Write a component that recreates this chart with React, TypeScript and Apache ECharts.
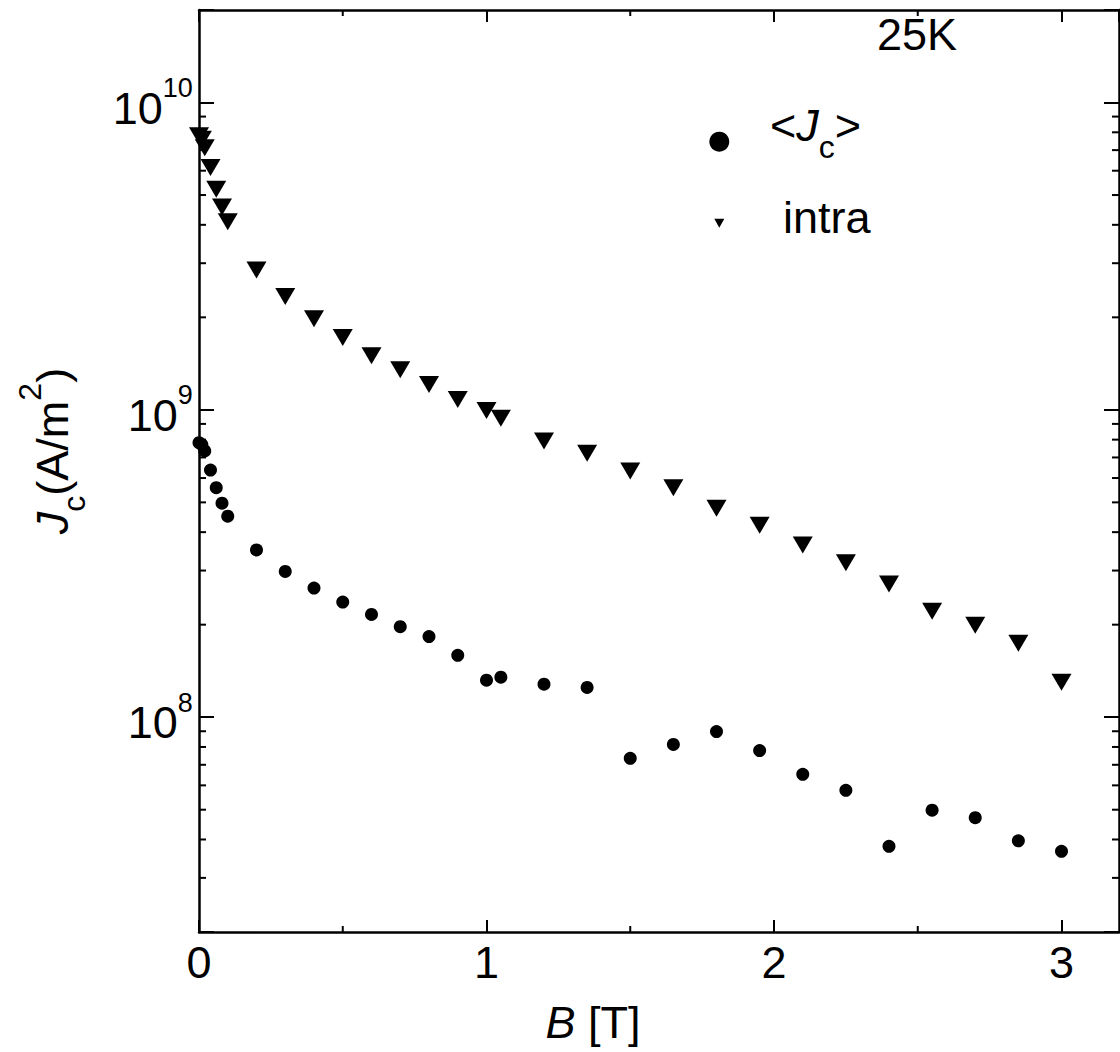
import React, { useEffect, useRef } from 'react';
import * as echarts from 'echarts';

// Magnetic field B [T]
const bField = [0, 0.01, 0.02, 0.04, 0.06, 0.08, 0.1, 0.2, 0.3, 0.4, 0.5, 0.6, 0.7, 0.8, 0.9, 1.0, 1.05, 1.2, 1.35, 1.5, 1.65, 1.8, 1.95, 2.1, 2.25, 2.4, 2.55, 2.7, 2.85, 3.0];
// <Jc> (A/m^2)
const jcAvg = [7.82e8, 7.7e8, 7.35e8, 6.37e8, 5.58e8, 4.97e8, 4.51e8, 3.5e8, 2.98e8, 2.63e8, 2.37e8, 2.16e8, 1.97e8, 1.83e8, 1.59e8, 1.32e8, 1.35e8, 1.28e8, 1.25e8, 7.35e7, 8.15e7, 8.98e7, 7.79e7, 6.52e7, 5.78e7, 3.8e7, 4.98e7, 4.71e7, 3.96e7, 3.66e7];
// intra (A/m^2)
const jcIntra = [7.8e9, 7.6e9, 7.13e9, 6.14e9, 5.22e9, 4.57e9, 4.09e9, 2.85e9, 2.34e9, 1.98e9, 1.72e9, 1.5e9, 1.35e9, 1.21e9, 1.08e9, 9.95e8, 9.39e8, 7.92e8, 7.23e8, 6.33e8, 5.58e8, 4.78e8, 4.21e8, 3.63e8, 3.18e8, 2.71e8, 2.21e8, 1.99e8, 1.74e8, 1.3e8];

const xMinorTicks = [0.5, 1.5, 2.5];
const yMinorTicks = [3e7, 4e7, 5e7, 6e7, 7e7, 8e7, 9e7, 2e8, 3e8, 4e8, 5e8, 6e8, 7e8, 8e8, 9e8, 2e9, 3e9, 4e9, 5e9, 6e9, 7e9, 8e9, 9e9];

const FONT = '"Liberation Sans", Arial, Helvetica, sans-serif';
const BLACK = '#000';

export default function App() {
  const ref = useRef<HTMLDivElement>(null);

  useEffect(() => {
    if (!ref.current) return;
    const chart = echarts.init(ref.current, undefined, { renderer: 'svg' });

    const lineStyle = { color: BLACK, width: 2.5 };
    const tickStyle = { color: BLACK, width: 2 };

    const nameRich = {
      i: { fontSize: 45, fontStyle: 'italic', lineHeight: 76, verticalAlign: 'middle', fontFamily: FONT, color: BLACK },
      n: { fontSize: 45, lineHeight: 76, verticalAlign: 'middle', fontFamily: FONT, color: BLACK },
      sub: { fontSize: 32, lineHeight: 46, verticalAlign: 'bottom', fontFamily: FONT, color: BLACK },
      sup: { fontSize: 32, lineHeight: 32, verticalAlign: 'top', fontFamily: FONT, color: BLACK },
    };

    const option: any = {
      animation: false,
      backgroundColor: '#fff',
      grid: { left: 199, right: 1, top: 10, bottom: 120, containLabel: false },
      xAxis: [
        {
          type: 'value', min: 0, max: 3.2, interval: 1, position: 'bottom',
          axisLine: { show: true, onZero: false, lineStyle },
          axisTick: { show: true, inside: true, length: 12, lineStyle: tickStyle },
          axisLabel: {
            show: true, margin: 8, fontSize: 45, fontFamily: FONT, color: BLACK, showMaxLabel: false,
            formatter: (v: number) => (Math.abs(v - Math.round(v)) < 1e-6 ? String(Math.round(v)) : ''),
          },
          splitLine: { show: false },
          name: '{i|B}{n| [T]}', nameLocation: 'middle', nameGap: 68,
          nameTextStyle: {
            padding: [0, 132, 0, 0],
            rich: {
              i: { fontSize: 45, fontStyle: 'italic', lineHeight: 44, fontFamily: FONT, color: BLACK },
              n: { fontSize: 45, lineHeight: 44, fontFamily: FONT, color: BLACK },
            },
          },
        },
        {
          type: 'value', min: 0, max: 3.2, interval: 1, position: 'top',
          axisLine: { show: true, onZero: false, lineStyle },
          axisTick: { show: true, inside: true, length: 12, lineStyle: tickStyle },
          axisLabel: { show: false },
          splitLine: { show: false },
        },
      ],
      yAxis: [
        {
          type: 'log', logBase: 10, min: 2e7, max: 2e10, position: 'left',
          axisLine: { show: true, onZero: false, lineStyle },
          axisTick: { show: true, inside: true, length: 15, lineStyle: tickStyle },
          axisLabel: {
            show: true, margin: 6,
            formatter: (v: number) => {
              const e = Math.log10(v);
              if (Math.abs(e - Math.round(e)) > 1e-6) return '';
              return `{m|10}{s|${Math.round(e)}}{h| }`;
            },
            rich: {
              m: { fontSize: 45, lineHeight: 52, verticalAlign: 'bottom', fontFamily: FONT, color: BLACK },
              s: { fontSize: 27, lineHeight: 43, verticalAlign: 'top', fontFamily: FONT, color: BLACK },
              h: { fontSize: 1, lineHeight: 56, verticalAlign: 'middle', fontFamily: FONT, color: BLACK },
            },
          },
          splitLine: { show: false },
          name: '{i|J}{sub|c}{n|(A/m}{sup|2}{n|)}', nameLocation: 'middle', nameRotate: 90, nameGap: 109,
          nameTextStyle: { padding: [0, 0, 0, 40], rich: nameRich },
        },
        {
          type: 'log', logBase: 10, min: 2e7, max: 2e10, position: 'right',
          axisLine: { show: true, onZero: false, lineStyle },
          axisTick: { show: true, inside: true, length: 15, lineStyle: tickStyle },
          axisLabel: { show: false },
          splitLine: { show: false },
        },
      ],
      series: [
        {
          name: '<Jc>', type: 'scatter', xAxisIndex: 0, yAxisIndex: 0, clip: false,
          symbol: 'circle', symbolSize: 13,
          itemStyle: { color: BLACK, opacity: 1 },
          data: bField.map((b, i) => [b, jcAvg[i]]),
        },
        {
          name: 'intra', type: 'scatter', xAxisIndex: 0, yAxisIndex: 0, clip: false,
          symbol: 'path://M0,0L20,0L10,17Z', symbolSize: [20, 17],
          itemStyle: { color: BLACK, opacity: 1 },
          data: bField.map((b, i) => [b, jcIntra[i]]),
        },
        {
          type: 'custom', xAxisIndex: 0, yAxisIndex: 0, silent: true, clip: false,
          data: yMinorTicks.map((v) => [0, v]),
          renderItem: (params: any, api: any) => {
            const cs = params.coordSys;
            const y = api.coord([0, api.value(1)])[1];
            return {
              type: 'group',
              children: [
                { type: 'line', shape: { x1: cs.x, y1: y, x2: cs.x + 7, y2: y }, style: { stroke: BLACK, lineWidth: 2 } },
                { type: 'line', shape: { x1: cs.x + cs.width - 7, y1: y, x2: cs.x + cs.width, y2: y }, style: { stroke: BLACK, lineWidth: 2 } },
              ],
            };
          },
        },
        {
          type: 'custom', xAxisIndex: 0, yAxisIndex: 0, silent: true, clip: false,
          data: xMinorTicks.map((v) => [v, 1e9]),
          renderItem: (params: any, api: any) => {
            const cs = params.coordSys;
            const x = api.coord([api.value(0), 1e9])[0];
            return {
              type: 'group',
              children: [
                { type: 'line', shape: { x1: x, y1: cs.y + cs.height, x2: x, y2: cs.y + cs.height - 6 }, style: { stroke: BLACK, lineWidth: 2 } },
                { type: 'line', shape: { x1: x, y1: cs.y, x2: x, y2: cs.y + 6 }, style: { stroke: BLACK, lineWidth: 2 } },
              ],
            };
          },
        },
      ],
      graphic: [
        {
          type: 'text', x: 877, y: 34.4,
          style: { text: '25K', fontSize: 45, fontFamily: FONT, fill: BLACK, align: 'left', verticalAlign: 'middle' },
        },
        { type: 'circle', shape: { cx: 719.3, cy: 141.7, r: 10 }, style: { fill: BLACK } },
        {
          type: 'text', x: 770, y: 87.4,
          style: {
            text: '{n|<}{i|J}{sub|c}{n|>}', align: 'left', verticalAlign: 'top',
            rich: nameRich,
          },
        },
        { type: 'polygon', shape: { points: [[714.3, 218.8], [724.3, 218.8], [719.3, 227.8]] }, style: { fill: BLACK } },
        {
          type: 'text', x: 783, y: 217.4,
          style: { text: 'intra', fontSize: 45, fontFamily: FONT, fill: BLACK, align: 'left', verticalAlign: 'middle' },
        },
      ],
    };

    chart.setOption(option);
    return () => chart.dispose();
  }, []);

  return (
    <div
      ref={ref}
      style={{ position: 'absolute', left: 0, top: 0, width: 1120, height: 1052, background: '#fff' }}
    />
  );
}
